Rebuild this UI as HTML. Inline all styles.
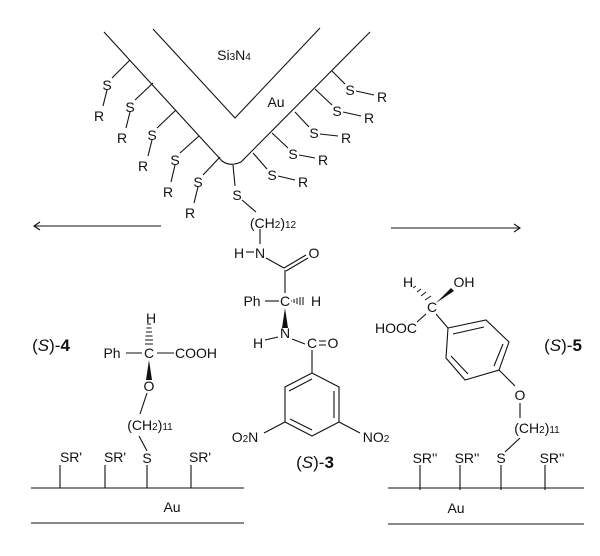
<!DOCTYPE html>
<html><head><meta charset="utf-8"><style>
html,body{margin:0;padding:0;background:#fff;}
svg{display:block;}
text{font-family:"Liberation Sans",sans-serif;font-size:14px;fill:#111;}
.b{font-size:17px;}
</style></head><body>
<svg width="600" height="556" viewBox="0 0 600 556" xmlns="http://www.w3.org/2000/svg">
<g stroke="#111" stroke-width="1.1" fill="none">
<path d="M104,32 L222,161 Q230,167 241,162 L370,32"/>
<path d="M153,29 L235,118 L320,28"/>
<path d="M130,60 L112,78 M107,90 L103,106"/>
<path d="M153,83 L135,100 M130,112 L126,128"/>
<path d="M176,110 L157,128 M152,140 L148,156"/>
<path d="M199,136 L180,153 M175,165 L171,182"/>
<path d="M220,157 L203,175 M198,187 L194,203"/>
<path d="M332,71 L345,84 M356,91 L374,95"/>
<path d="M315,89 L332,105 M343,112 L361,116"/>
<path d="M295,112 L309,127 M320,134 L338,136"/>
<path d="M272,133 L288,148 M299,155 L315,158"/>
<path d="M253,153 L267,169 M278,176 L295,180"/>
<path d="M233,165 L235,186 M242,200 L256,212"/>
<path d="M260,229 L260,244"/>
<path d="M34,226 L161,226 M40,222 L34,226 L40,230"/>
<path d="M391,228 L520,228 M514,224 L520,228 L514,232"/>
<path d="M266,258 L284,268 L306,255 M286,271 L308,258"/>
<path d="M285,270 L285,293"/>
<path d="M265,301 L279,301"/>
<path d="M254,252 L246,252"/>
<path d="M265,340 L278,337 M292,339 L305,344"/>
<path d="M319,341 L326,341 M319,345 L326,345"/>
<path d="M312,350 L312,373"/>
<path d="M312,373 L339,387 L339,422 L312,436 L285,422 L285,387 Z"/>
<path d="M312,379 L289,391 M334,391 L334,418 M290,419 L312,430"/>
<path d="M285,422 L264,433 M339,422 L360,433"/>
<path d="M147,393 L140,414 M139,436 L147,451"/>
<path d="M126,353 L142,353 M157,353 L174,353"/>
<path d="M60,465 L60,488 M105,465 L105,488 M147,465 L147,488 M191,465 L191,488"/>
<path d="M31,488 L244,488 M31,523 L244,523"/>
<path d="M448,328 L486,320 L509,342 L499,370 L465,380 L446,358 Z"/>
<path d="M453,334 L484,327 M503,344 L494,366 M468,374 L451,356"/>
<path d="M436,314 L448,328 M426,314 L417,322"/>
<path d="M499,370 L515,386 M520,403 L520,418 M520,438 L505,452"/>
<path d="M420,465 L420,490 M460,465 L460,490 M501,465 L501,490 M545,465 L545,490"/>
<path d="M388,488 L584,488 M388,524 L584,524"/>
</g>
<g fill="#111" stroke="none">
<polygon points="285,308 282,328 288,328"/>
<polygon points="149,360 146,380 152,380"/>
<polygon points="436,303 451,288 454,291"/>
</g>
<g stroke="#111" stroke-width="1">
<path d="M291,301 h1 M294,299 v4 M297,298 v6 M300,297 v8 M303,297 v8"/>
<path d="M147,324 h4 M146.5,328 h5 M146,332 h6 M145.5,336 h7 M145,340 h8 M145,344 h8"/>
<path d="M413,288 l3,-2 M417,292 l4,-3 M421,296 l5,-4 M425,300 l6,-4"/>
</g>
<g text-anchor="middle">
<text x="234" y="60">Si<tspan font-size="10">3</tspan>N<tspan font-size="10">4</tspan></text>
<text x="276" y="107">Au</text>
<text x="107" y="90">S</text><text x="99" y="121">R</text>
<text x="130" y="112">S</text><text x="122" y="143">R</text>
<text x="152" y="140">S</text><text x="143" y="171">R</text>
<text x="175" y="165">S</text><text x="168" y="197">R</text>
<text x="198" y="187">S</text><text x="190" y="218">R</text>
<text x="350" y="95">S</text><text x="382" y="102">R</text>
<text x="337" y="116">S</text><text x="369" y="123">R</text>
<text x="314" y="138">S</text><text x="346" y="143">R</text>
<text x="293" y="159">S</text><text x="323" y="165">R</text>
<text x="272" y="180">S</text><text x="303" y="187">R</text>
<text x="237" y="200">S</text>
<text x="273" y="228">(CH<tspan font-size="10">2</tspan>)<tspan font-size="10">12</tspan></text>
<text x="239" y="258">H</text>
<text x="260" y="258">N</text>
<text x="314" y="258">O</text>
<text x="252" y="306">Ph</text>
<text x="285" y="306">C</text>
<text x="316" y="306">H</text>
<text x="285" y="338">N</text>
<text x="258" y="348">H</text>
<text x="312" y="348">C</text>
<text x="333" y="348">O</text>
<text x="245" y="442">O<tspan font-size="10">2</tspan>N</text>
<text x="376" y="442">NO<tspan font-size="10">2</tspan></text>
<text class="b" x="315" y="468">(<tspan font-style="italic">S</tspan>)-<tspan font-weight="bold">3</tspan></text>
<text class="b" x="51" y="351">(<tspan font-style="italic">S</tspan>)-<tspan font-weight="bold">4</tspan></text>
<text x="151" y="323">H</text>
<text x="112" y="358">Ph</text>
<text x="149" y="358">C</text>
<text x="196" y="358">COOH</text>
<text x="149" y="391">O</text>
<text x="150" y="430">(CH<tspan font-size="10">2</tspan>)<tspan font-size="10">11</tspan></text>
<text x="147" y="463">S</text>
<text x="71" y="462">SR'</text>
<text x="115" y="462">SR'</text>
<text x="200" y="462">SR'</text>
<text x="172" y="512">Au</text>
<text x="408" y="287">H</text>
<text x="464" y="287">OH</text>
<text x="432" y="312">C</text>
<text x="396" y="333">HOOC</text>
<text x="520" y="400">O</text>
<text x="537" y="433">(CH<tspan font-size="10">2</tspan>)<tspan font-size="10">11</tspan></text>
<text x="501" y="463">S</text>
<text x="425" y="463">SR''</text>
<text x="467" y="463">SR''</text>
<text x="552" y="463">SR''</text>
<text x="456" y="513">Au</text>
<text class="b" x="563" y="351">(<tspan font-style="italic">S</tspan>)-<tspan font-weight="bold">5</tspan></text>
</g>
</svg>
</body></html>
